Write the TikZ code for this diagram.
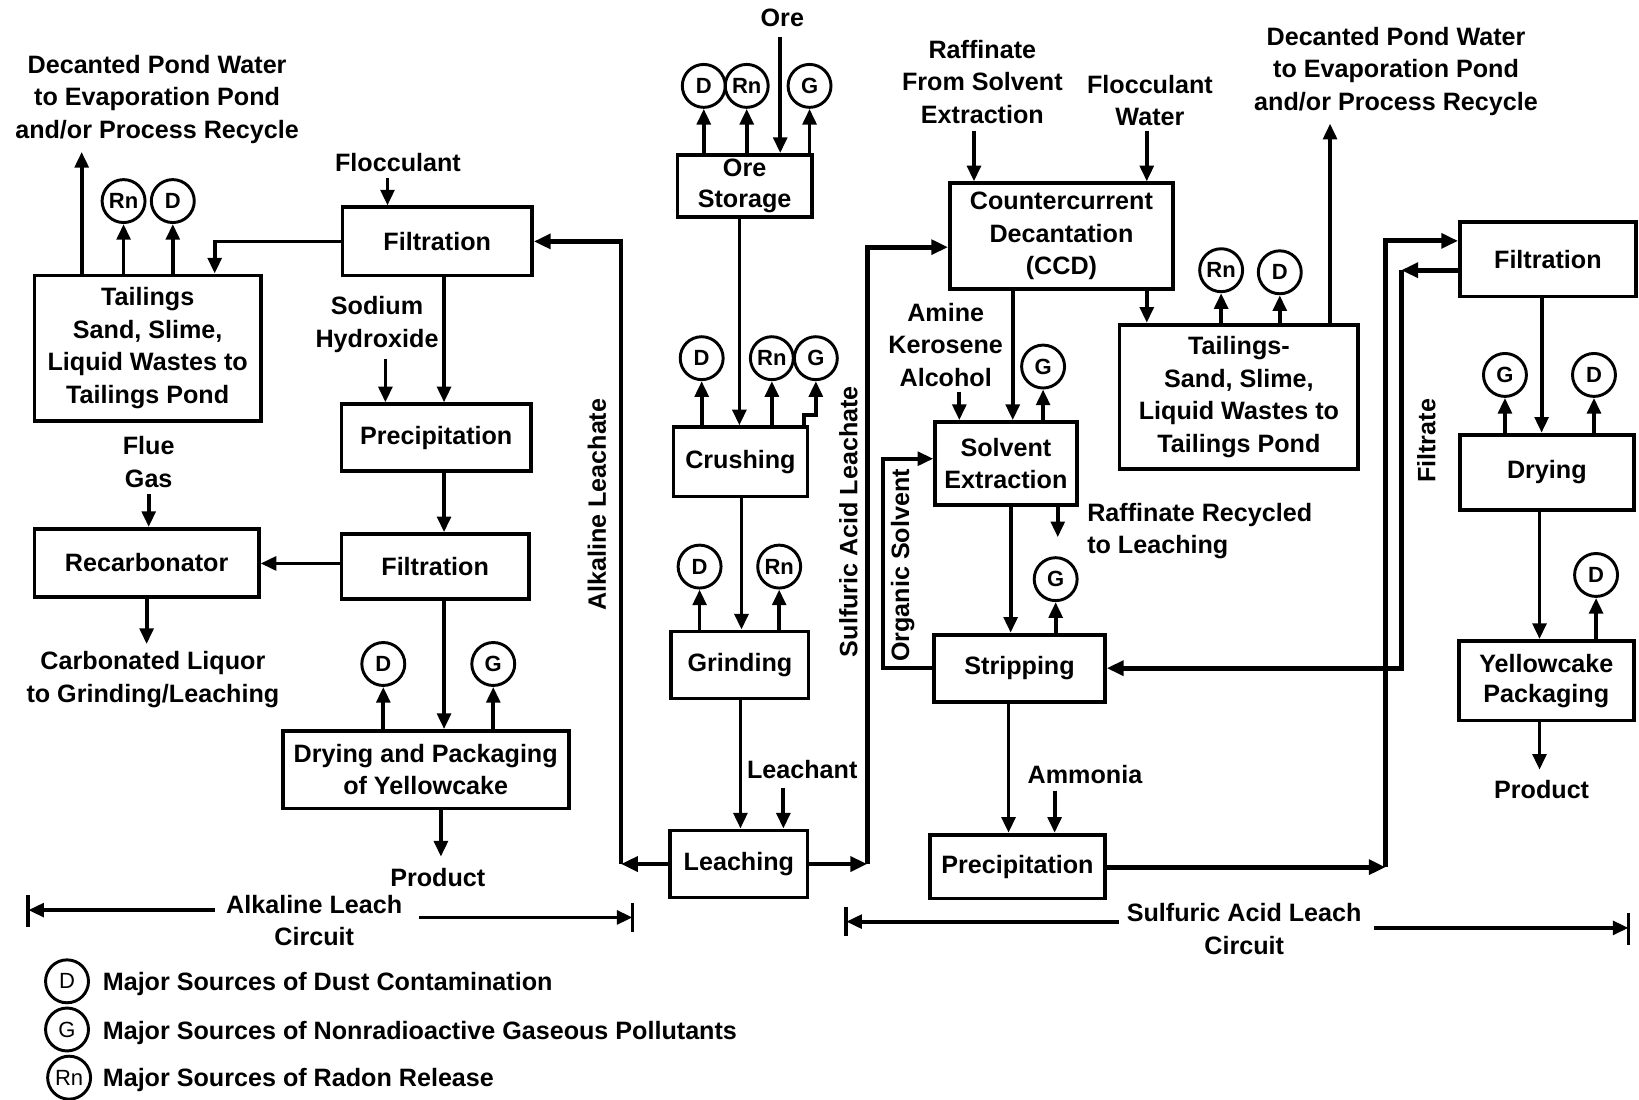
\documentclass[tikz,border=0pt]{standalone}
\usepackage{fontspec}
\setmainfont{Liberation Sans}
\usetikzlibrary{arrows.meta}
\begin{document}
\begin{tikzpicture}[x=1pt,y=-1pt,
  font=\fontsize{24}{31}\selectfont\bfseries,
  box/.style={draw,line width=3.6pt,inner sep=0pt,align=center},
  circ/.style={draw,circle,line width=2.8pt,minimum size=41pt,inner sep=0pt,font=\fontsize{21}{21}\selectfont\bfseries},
  lbl/.style={align=center,inner sep=0pt},
  rlbl/.style={inner sep=0pt,rotate=90},
  arr/.style={line width=3.6pt,-{Triangle[length=15pt,width=13pt]}},
  loop/.style={line width=4.6pt,-{Triangle[length=16pt,width=14pt]}},
  ln/.style={line width=3.6pt}]
\useasboundingbox (0,0) rectangle (1565,1050);

% ---------------- boxes ----------------
\node[box,minimum width=216pt,minimum height=139pt] (tail1) at (141,332.5) {Tailings\\Sand, Slime,\\Liquid Wastes to\\Tailings Pond};
\node[box,minimum width=181pt,minimum height=65pt] (filt1) at (417.5,230.5) {Filtration};
\node[box,minimum width=181pt,minimum height=64pt] (prec1) at (416.5,418) {Precipitation};
\node[box,minimum width=179pt,minimum height=62pt] (filt2) at (415.5,541) {Filtration};
\node[box,minimum width=214pt,minimum height=65pt] (recarb) at (140,537.5) {Recarbonator};
\node[box,minimum width=273pt,minimum height=74pt] (dry1) at (406.5,735) {Drying and Packaging\\of Yellowcake};
\node[box,minimum width=128pt,minimum height=59pt,font=\fontsize{24}{29}\selectfont\bfseries] (ore) at (711,177.5) {Ore\\Storage};
\node[box,minimum width=128pt,minimum height=66pt] (crush) at (707,441) {Crushing};
\node[box,minimum width=131pt,minimum height=64pt] (grind) at (706.5,635) {Grinding};
\node[box,minimum width=131pt,minimum height=64pt] (leach) at (705.5,825) {Leaching};
\node[box,minimum width=213pt,minimum height=101pt] (ccd) at (1013.5,225.5) {Countercurrent\\Decantation\\(CCD)};
\node[box,minimum width=228pt,minimum height=138pt] (tail2) at (1183,379) {Tailings-\\Sand, Slime,\\Liquid Wastes to\\Tailings Pond};
\node[box,minimum width=135pt,minimum height=79pt] (sx) at (960.5,442.5) {Solvent\\Extraction};
\node[box,minimum width=163pt,minimum height=64pt] (strip) at (973.5,638) {Stripping};
\node[box,minimum width=167pt,minimum height=61pt] (prec2) at (971.5,827.5) {Precipitation};
\node[box,minimum width=168pt,minimum height=71pt] (filt3) at (1478,247.5) {Filtration};
\node[box,minimum width=166pt,minimum height=72pt] (dry2) at (1477,451) {Drying};
\node[box,minimum width=167pt,minimum height=76pt,font=\fontsize{24}{29}\selectfont\bfseries] (yp) at (1476.5,650) {Yellowcake\\Packaging};

% ---------------- circles ----------------
\node[circ] (t1rn) at (118,192) {Rn};
\node[circ] (t1d) at (165,192) {D};
\node[circ] (d1d) at (366,634) {D};
\node[circ] (d1g) at (471,634) {G};
\node[circ] (ord) at (672,82) {D};
\node[circ] (orrn) at (713,82) {Rn};
\node[circ] (org) at (773,82) {G};
\node[circ] (crd) at (670,342) {D};
\node[circ] (crrn) at (737,342) {Rn};
\node[circ] (crg) at (779,342) {G};
\node[circ] (grd) at (668,541) {D};
\node[circ] (grrn) at (744,541) {Rn};
\node[circ] (t2rn) at (1166,258) {Rn};
\node[circ] (t2d) at (1222,260) {D};
\node[circ] (sxg) at (996,350) {G};
\node[circ] (stg) at (1008,553) {G};
\node[circ] (d2g) at (1437,358) {G};
\node[circ] (d2d) at (1522,358) {D};
\node[circ] (ypd) at (1524,549) {D};

% ---------------- labels ----------------
\node[lbl] (dec1) at (150,95) {Decanted Pond Water\\to Evaporation Pond\\and/or Process Recycle};
\node[lbl] (floc1) at (380,155) {Flocculant};
\node[lbl] (naoh) at (360,310) {Sodium\\Hydroxide};
\node[lbl] (flue) at (142,441) {Flue\\Gas};
\node[lbl] (carb) at (146,649) {Carbonated Liquor\\to Grinding/Leaching};
\node[lbl] (prod1) at (418,838) {Product};
\node[lbl] (orein) at (747,17) {Ore};
\node[lbl] (leachant) at (766,735) {Leachant};
\node[lbl] (raff) at (938,78) {Raffinate\\From Solvent\\Extraction};
\node[lbl] (floc2) at (1098,96) {Flocculant\\Water};
\node[lbl] (dec2) at (1333,68) {Decanted Pond Water\\to Evaporation Pond\\and/or Process Recycle};
\node[lbl] (amine) at (903,329) {Amine\\Kerosene\\Alcohol};
\node[lbl,align=left,anchor=west] (raffrec) at (1038,507) {Raffinate Recycled\\to Leaching};
\node[lbl] (amm) at (1036,740) {Ammonia};
\node[lbl] (prod2) at (1472,754) {Product};
\node[rlbl] (alkl) at (570,482) {Alkaline Leachate};
\node[rlbl] (sulfl) at (810,498) {Sulfuric Acid Leachate};
\node[rlbl] (orgs) at (862,540) {Organic Solvent};
\node[rlbl] (filtrate) at (1362,421) {Filtrate};

% ---------------- left circuit connectors ----------------
\coordinate (dec1a) at (78,145);
\draw[arr] (tail1.north -| dec1a) -- (dec1a);
\draw[arr] (tail1.north -| t1rn) -- (t1rn.south);
\draw[arr] (tail1.north -| t1d) -- (t1d.south);
\draw[arr] (370,170) -- (filt1.north -| 370,0);
\draw[arr] (filt1.west) -| (tail1.north -| 205,0);
\draw[arr] (filt1.south -| 424,0) -- (prec1.north -| 424,0);
\draw[arr] (368,343) -- (prec1.north -| 368,0);
\draw[arr] (prec1.south -| 424,0) -- (filt2.north -| 424,0);
\draw[arr] (filt2.west |- 0,538) -- (recarb.east |- 0,538);
\draw[arr] (142,472) -- (recarb.north -| 142,0);
\coordinate (carba) at (140,615);
\draw[arr] (recarb.south -| carba) -- (carba);
\draw[arr] (filt2.south -| 424,0) -- (dry1.north -| 424,0);
\draw[arr] (dry1.north -| d1d) -- (d1d.south);
\draw[arr] (dry1.north -| d1g) -- (d1g.south);
\coordinate (prod1a) at (421,818);
\draw[arr] (dry1.south -| prod1a) -- (prod1a);

% alkaline leachate loop
\coordinate (alkc) at (593,825);
\draw[loop] (leach.west) -- (alkc);
\draw[loop] (alkc) |- (filt1.east);

% ---------------- middle column ----------------
\draw[arr] (745,35) -- (ore.north -| 745,0);
\draw[arr] (ore.north -| ord) -- (ord.south);
\draw[arr] (ore.north -| orrn) -- (orrn.south);
\draw[arr] (ore.north -| org) -- (org.south);
\draw[arr] (ore.south -| 706,0) -- (crush.north -| 706,0);
\draw[arr] (crush.north -| crd) -- (crd.south);
\draw[arr] (crush.north -| crrn) -- (crrn.south);
\draw[arr] (crush.north -| 768,0) -- (768,396) -- (779,396) -- (crg.south);
\draw[arr] (crush.south -| 708,0) -- (grind.north -| 708,0);
\draw[arr] (grind.north -| grd) -- (grd.south);
\draw[arr] (grind.north -| grrn) -- (grrn.south);
\draw[arr] (grind.south -| 707,0) -- (leach.north -| 707,0);
\draw[arr] (748,752) -- (leach.north -| 748,0);

% sulfuric acid leachate
\coordinate (sac) at (828,825);
\draw[loop] (leach.east) -- (sac);
\draw[loop] (sac) -- (828,236) -- (ccd.west |- 0,236);

% ---------------- sulfuric circuit ----------------
\draw[arr] (930,125) -- (ccd.north -| 930,0);
\draw[arr] (1095,125) -- (ccd.north -| 1095,0);
\draw[arr] (ccd.south -| 1095,0) -- (tail2.north -| 1095,0);
\draw[arr] (tail2.north -| t2rn) -- (t2rn.south);
\draw[arr] (tail2.north -| t2d) -- (t2d.south);
\coordinate (dec2a) at (1270,118);
\draw[arr] (tail2.north -| dec2a) -- (dec2a);
\draw[arr] (ccd.south -| 967,0) -- (sx.north -| 967,0);
\draw[arr] (916,374) -- (sx.north -| 916,0);
\draw[arr] (sx.north -| sxg) -- (sxg.south);
\draw[arr] (sx.south -| 1010,0) -- (1010,513);
\draw[arr] (sx.south -| 965,0) -- (strip.north -| 965,0);
\draw[arr] (strip.north -| stg) -- (stg.south);
\draw[arr] (strip.west) -- (843,638) -- (843,438) -- (sx.west |- 0,438);
\draw[arr] (strip.south -| 963,0) -- (prec2.north -| 963,0);
\draw[arr] (1007,755) -- (prec2.north -| 1007,0);

% precipitation -> filtration loop
\coordinate (pc) at (1323,828);
\draw[loop] (prec2.east |- pc) -- (pc);
\draw[loop] (pc) -- (1323,230) -- (filt3.west |- 0,230);
% filtrate loop
\coordinate (fc) at (1338,258);
\draw[loop] (filt3.west |- fc) -- (fc);
\draw[loop] (fc) |- (strip.east);

\draw[arr] (filt3.south -| 1472,0) -- (dry2.north -| 1472,0);
\draw[arr] (dry2.north -| d2g) -- (d2g.south);
\draw[arr] (dry2.north -| d2d) -- (d2d.south);
\draw[arr] (dry2.south -| 1470,0) -- (yp.north -| 1470,0);
\draw[arr] (yp.north -| ypd) -- (ypd.south);
\coordinate (prod2a) at (1470,735);
\draw[arr] (yp.south -| prod2a) -- (prod2a);

% ---------------- circuit spans ----------------
\node[lbl] (alkcirc) at (300,879) {Alkaline Leach\\Circuit};
\coordinate (al1) at (27,869);
\coordinate (al2) at (604,876);
\draw[arr] (205,869) -- (al1);
\draw[arr] (400,876) -- (al2);
\draw[ln] (27,855) -- (27,885);
\draw[ln] (604,862) -- (604,890);

\node[lbl] (sulcirc) at (1188,887) {Sulfuric Acid Leach\\Circuit};
\coordinate (sl1) at (808,880);
\coordinate (sl2) at (1555,886);
\draw[arr] (1068,880) -- (sl1);
\draw[arr] (1312,886) -- (sl2);
\draw[ln] (808,866) -- (808,894);
\draw[ln] (1555,872) -- (1555,902);

% ---------------- legend ----------------
\node[circ,font=\fontsize{21}{21}\selectfont\mdseries] (lgd) at (64,937) {D};
\node[circ,font=\fontsize{21}{21}\selectfont\mdseries] (lgg) at (64,983) {G};
\node[circ,font=\fontsize{21}{21}\selectfont\mdseries] (lgrn) at (66,1029) {Rn};
\node[lbl,anchor=west] (lgdt) at (98,940) {Major Sources of Dust Contamination};
\node[lbl,anchor=west] (lggt) at (98,986) {Major Sources of Nonradioactive Gaseous Pollutants};
\node[lbl,anchor=west] (lgrnt) at (98,1031) {Major Sources of Radon Release};
\end{tikzpicture}
\end{document}
